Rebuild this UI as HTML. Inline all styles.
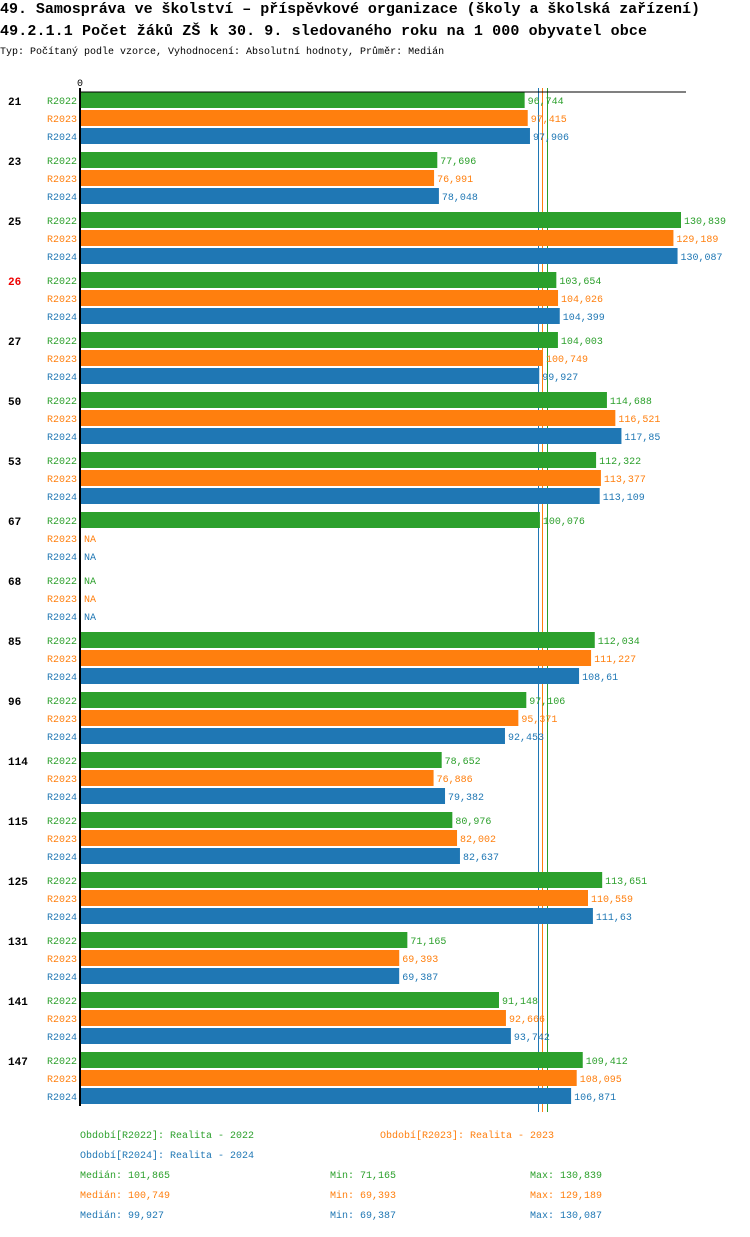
<!DOCTYPE html>
<html><head><meta charset="utf-8"><style>
body{margin:0;background:#fff;width:750px;height:1232px;overflow:hidden;font-family:"Liberation Mono",monospace}
svg text{font-family:"Liberation Mono",monospace}
</style></head><body>
<svg id="c" width="750" height="1232" xmlns="http://www.w3.org/2000/svg">
<text x="0" y="13" font-size="15" font-weight="bold" textLength="700">49. Samospráva ve školství – příspěvkové organizace (školy a školská zařízení)</text>
<text x="0" y="35" font-size="15" font-weight="bold" textLength="647">49.2.1.1 Počet žáků ZŠ k 30. 9. sledovaného roku  na 1 000 obyvatel obce</text>
<text x="0" y="54" font-size="10">Typ: Počítaný podle vzorce, Vyhodnocení: Absolutní hodnoty, Průměr: Medián</text>
</svg>
<script>
const categories=["21","23","25","26","27","50","53","67","68","85","96","114","115","125","131","141","147"];
const v2022=[96.744,77.696,130.839,103.654,104.003,114.688,112.322,100.076,null,112.034,97.106,78.652,80.976,113.651,71.165,91.148,109.412];
const v2023=[97.415,76.991,129.189,104.026,100.749,116.521,113.377,null,null,111.227,95.371,76.886,82.002,110.559,69.393,92.666,108.095];
const v2024=[97.906,78.048,130.087,104.399,99.927,117.85,113.109,null,null,108.61,92.453,79.382,82.637,111.63,69.387,93.742,106.871];
const seriesNames=["R2022","R2023","R2024"];
const medians=[101.865,100.749,99.927];
const mins=[71.165,69.393,69.387];
const maxs=[130.839,129.189,130.087];
const highlight="26";
const colors=["#2ca02c","#ff7f0e","#1f77b4"];
const NS="http://www.w3.org/2000/svg";
const svg=document.getElementById('c');
const x0=81, scale=600/130.839;
const xs=v=>x0+v*scale;
const gy=i=>92+i*60;
function el(t,a,txt){const e=document.createElementNS(NS,t);for(const k in a)e.setAttribute(k,a[k]);if(txt!==undefined)e.textContent=txt;svg.appendChild(e);return e;}
const fmt=v=>{let s=String(+v.toFixed(3));return s.replace('.',',');};
const series=[v2022,v2023,v2024];
[2,1,0].forEach(j=>{
  const l=el('line',{x1:Math.round(xs(medians[j]))-0.5,x2:Math.round(xs(medians[j]))-0.5,y1:88,y2:1112,stroke:colors[j],'stroke-width':1});
  
  
});
const zl=el('text',{x:80,y:86,'font-size':10,'text-anchor':'middle'},'0');


categories.forEach((c,i)=>{
  const y=gy(i);
  const cl=el('text',{x:8,y:y+13,'font-size':11,'font-weight':'bold',fill:c===highlight?'#e00':'#000'},c);
  
  
  series.forEach((s,j)=>{
    const by=y+j*18;
    const sl=el('text',{x:47,y:by+12,'font-size':10,fill:colors[j]},seriesNames[j]);
    
    
    const v=s[i];
    if(v!==null){
      const r=el('rect',{x:x0,y:by,width:xs(v)-x0,height:16,fill:colors[j]});
      
      
    }
    const vl=el('text',{x:(v===null?x0:xs(v))+3,y:by+12,'font-size':10,fill:colors[j]},v===null?'NA':fmt(v));
    
    
  });
});
const ax=el('line',{x1:80,x2:80,y1:88,y2:1106,stroke:'#000','stroke-width':2});


const tx=el('line',{x1:79,x2:686,y1:92,y2:92,stroke:'#000','stroke-width':1});


const years=["2022","2023","2024"];
const lp=[[80,1138],[380,1138],[80,1158]];
years.forEach((yr,j)=>{
  const t=el('text',{x:lp[j][0],y:lp[j][1],'font-size':10,fill:colors[j]},'Období['+seriesNames[j]+']: Realita - '+yr);
  
  
  const yy=1178+j*20;
  const a=el('text',{x:80,y:yy,'font-size':10,fill:colors[j]},'Medián: '+fmt(medians[j]));
  
  
  const b=el('text',{x:330,y:yy,'font-size':10,fill:colors[j]},'Min: '+fmt(mins[j]));
  
  
  const d=el('text',{x:530,y:yy,'font-size':10,fill:colors[j]},'Max: '+fmt(maxs[j]));
  
  
});
</script>
</body></html>
